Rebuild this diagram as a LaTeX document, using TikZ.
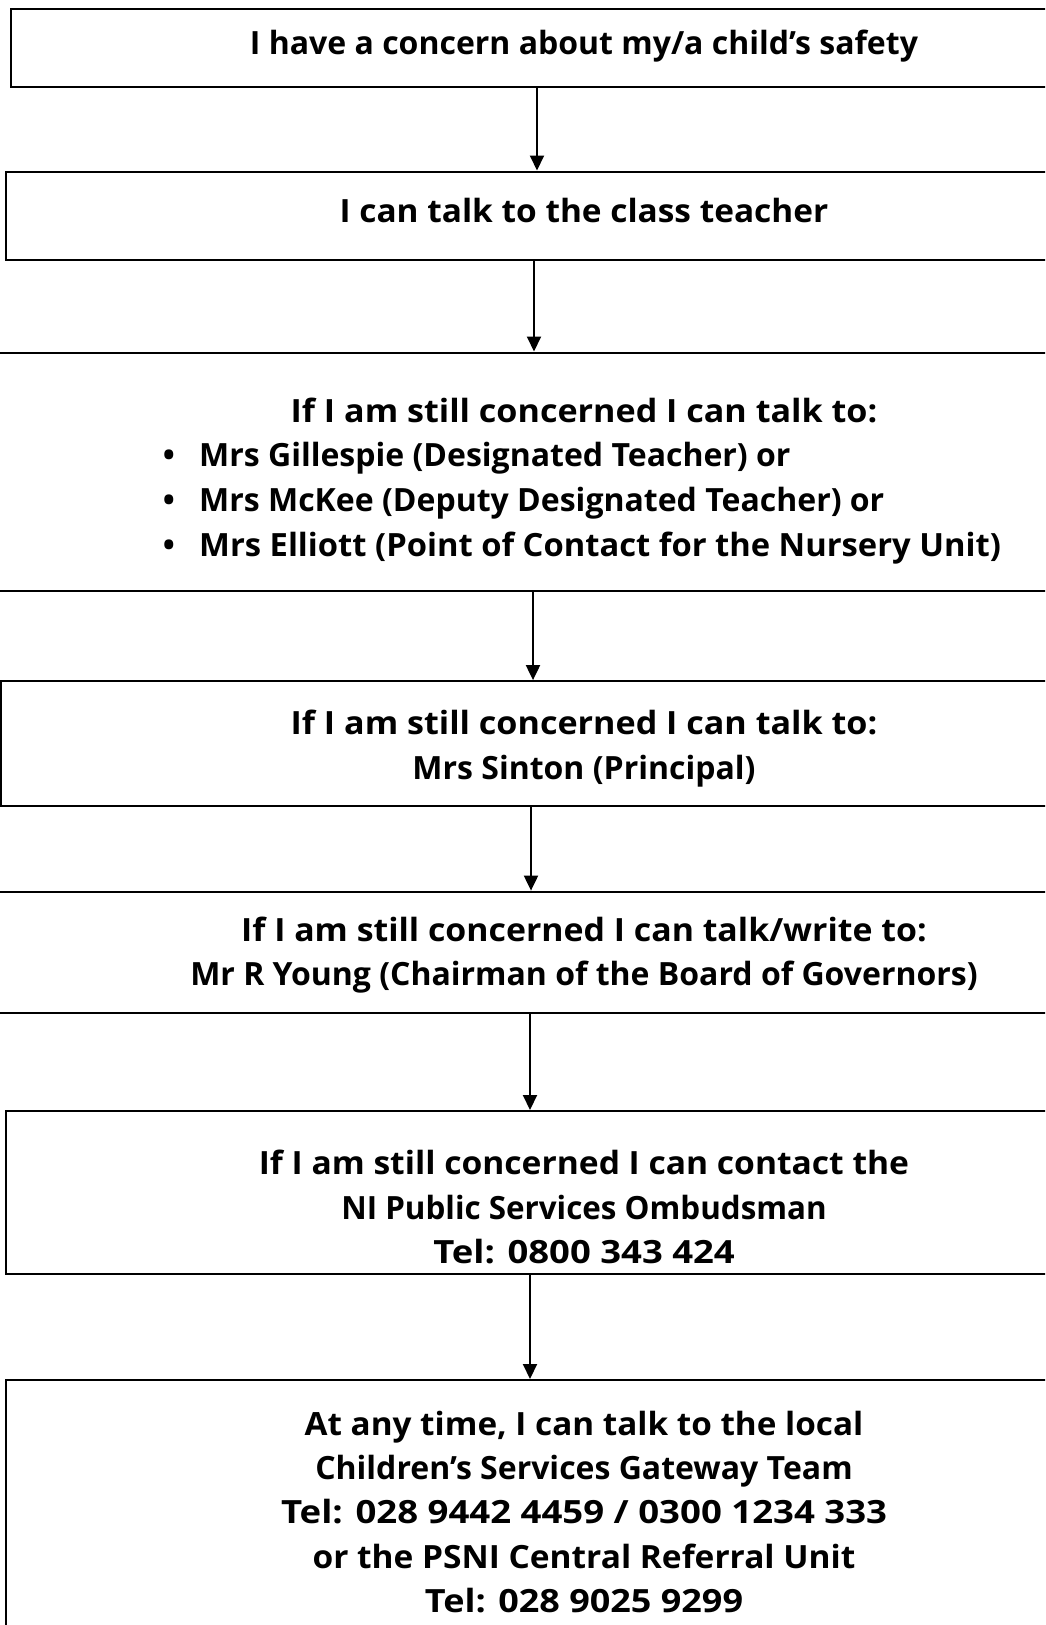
\documentclass[tikz,border=0pt]{standalone}
\usepackage{fontspec}
\usepackage{graphicx}
\setmainfont{Open Sans}
\usetikzlibrary{arrows.meta}

\newcommand{\widen}[2]{\scalebox{#1}[1]{#2}}

\tikzstyle{step-box}=[draw, line width=2pt, inner sep=0pt]
\tikzstyle{step-text}=[anchor=base, inner sep=0pt, font=\fontsize{32}{36}\selectfont\bfseries]
\tikzstyle{step-item}=[step-text, anchor=base west]
\tikzstyle{step-arrow}=[line width=2pt, -{Triangle[length=15pt,width=14pt]}]

\begin{document}
\begin{tikzpicture}[x=1pt, y=-1pt]
      \useasboundingbox (0,0) rectangle (1045,1625);
      \clip (0,0) rectangle (1045,1625);

      \node (box-1) at (537,47.75) [step-box, minimum width=1052pt, minimum height=77.5pt] {};
      \node (box-2) at (534,215.75) [step-box, minimum width=1056pt, minimum height=88.5pt] {};
      \node (box-3) at (533,471.7) [step-box, minimum width=1074pt, minimum height=238.4pt] {};
      \node (box-4) at (531,743.3) [step-box, minimum width=1060pt, minimum height=124.4pt] {};
      \node (box-5) at (530,952.25) [step-box, minimum width=1068pt, minimum height=121.3pt] {};
      \node (box-6) at (530,1192.5) [step-box, minimum width=1048pt, minimum height=163pt] {};
      \node (box-7) at (530,1540) [step-box, minimum width=1048pt, minimum height=320pt] {};

      \node (line-1-1) at (584,54.5) [step-text] {I have a concern about my/a child’s safety};

      \node (line-2-1) at (584,222) [step-text] {\widen{1.044}{I can talk to the class teacher}};

      \node (line-3-1) at (584,422.5) [step-text] {\widen{1.066}{If I am still concerned I can talk to:}};
      \node (dot-3-2) at (169,466) [step-text] {•};
      \node (line-3-2) at (199,466) [step-item] {Mrs Gillespie (Designated Teacher) or};
      \node (dot-3-3) at (169,511) [step-text] {•};
      \node (line-3-3) at (199,511) [step-item] {Mrs McKee (Deputy Designated Teacher) or};
      \node (dot-3-4) at (169,556) [step-text] {•};
      \node (line-3-4) at (199,556) [step-item] {\widen{1.023}{Mrs Elliott (Point of Contact for the Nursery Unit)}};

      \node (line-4-1) at (584,734.5) [step-text] {\widen{1.066}{If I am still concerned I can talk to:}};
      \node (line-4-2) at (584,779) [step-text] {Mrs Sinton (Principal)};

      \node (line-5-1) at (584,941) [step-text] {\widen{1.058}{If I am still concerned I can talk/write to:}};
      \node (line-5-2) at (584,985.5) [step-text] {Mr R Young (Chairman of the Board of Governors)};

      \node (line-6-1) at (584,1174) [step-text] {\widen{1.05}{If I am still concerned I can contact the}};
      \node (line-6-2) at (584,1219) [step-text] {\widen{0.98}{NI Public Services Ombudsman}};
      \node (line-6-3) at (584,1263.5) [step-text] {\widen{1.14}{Tel: 0800 343 424}};

      \node (line-7-1) at (584,1435) [step-text] {\widen{1.04}{At any time, I can talk to the local}};
      \node (line-7-2) at (584,1479) [step-text] {Children’s Services Gateway Team};
      \node (line-7-3) at (584,1523) [step-text] {\widen{1.143}{Tel: 028 9442 4459 / 0300 1234 333}};
      \node (line-7-4) at (584,1568) [step-text] {\widen{1.046}{or the PSNI Central Referral Unit}};
      \node (line-7-5) at (584,1612) [step-text] {\widen{1.125}{Tel: 028 9025 9299}};

      \draw[step-arrow] (box-1.south) -- (box-1.south |- box-2.north);
      \draw[step-arrow] (box-2.south) -- (box-2.south |- box-3.north);
      \draw[step-arrow] (box-3.south) -- (box-3.south |- box-4.north);
      \draw[step-arrow] (box-4.south) -- (box-4.south |- box-5.north);
      \draw[step-arrow] (box-5.south) -- (box-5.south |- box-6.north);
      \draw[step-arrow] (box-6.south) -- (box-6.south |- box-7.north);
    \end{tikzpicture}
\end{document}
